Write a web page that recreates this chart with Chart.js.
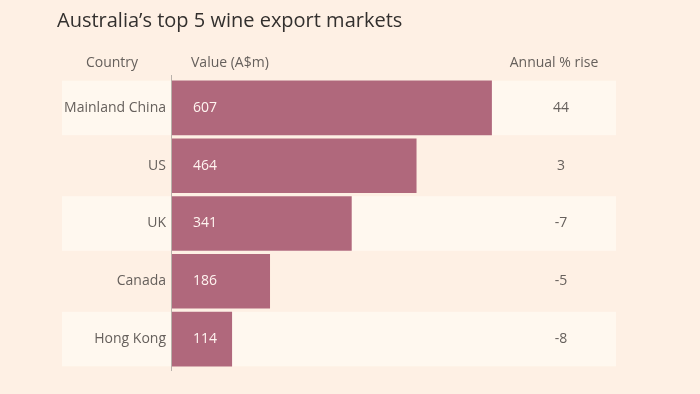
<!DOCTYPE html>
<html><head><meta charset="utf-8">
<script src="https://cdn.jsdelivr.net/npm/chart.js@4"></script>
<style>html,body{margin:0;padding:0;background:#fef0e4;}#wrap{width:700px;height:394px;}</style>
</head><body><div id="wrap"><canvas id="c" width="700" height="394"></canvas></div>
<script>
const countries = ["Mainland China","US","UK","Canada","Hong Kong"];
const values = [607,464,341,186,114];
const annualRise = ["44","3","-7","-5","-8"];
const FONT = "'Open Sans', 'Noto Sans', sans-serif";
const TEXT = '#66605c';

const decor = {
  id:'decor',
  beforeDraw(chart){
    const {ctx, chartArea, scales:{y}} = chart;
    ctx.save();
    ctx.fillStyle = '#fff8ef';
    countries.forEach((c,i)=>{
      if(i%2===0){
        const yc = y.getPixelForValue(i);
        const h = 54.5;
        ctx.fillRect(62, yc-h/2, chartArea.right-62, h);
      }
    });
    ctx.restore();
  },
  afterDatasetsDraw(chart){
    const {ctx, chartArea, scales:{x,y}} = chart;
    ctx.save();
    ctx.strokeStyle = '#b9b2ab'; ctx.lineWidth = 1;
    ctx.beginPath(); ctx.moveTo(171.5, 75); ctx.lineTo(171.5, 371); ctx.stroke();
    ctx.fillStyle = '#33302e';
    ctx.font = "20px " + FONT;
    ctx.textBaseline = 'alphabetic'; ctx.textAlign='left';
    ctx.fillText("Australia\u2019s top 5 wine export markets", 57, 27);
    ctx.fillStyle = TEXT;
    ctx.font = "14px " + FONT;
    ctx.textAlign='center'; ctx.fillText("Country", 112, 67);
    ctx.textAlign='left'; ctx.fillText("Value (A$m)", 191, 67);
    ctx.textAlign='center'; ctx.fillText("Annual % rise", 554, 67);
    ctx.textBaseline='middle';
    countries.forEach((c,i)=>{
      const yc = y.getPixelForValue(i);
      ctx.fillStyle = '#fff4f0'; ctx.textAlign='left';
      ctx.fillText(String(values[i]), 193, yc);
      ctx.fillStyle = TEXT; ctx.textAlign='center';
      ctx.fillText(annualRise[i], 561, yc);
    });
    ctx.restore();
  }
};

new Chart(document.getElementById('c'), {
  type:'bar',
  data:{labels:countries, datasets:[{data:values, backgroundColor:'#b0687c', borderWidth:0, barPercentage:0.945, categoryPercentage:1}]},
  options:{
    indexAxis:'y', responsive:false, animation:false,
    layout:{padding:{left:0,right:84,top:79,bottom:26}},
    plugins:{legend:{display:false}, tooltip:{enabled:false}},
    scales:{
      x:{display:false, min:0, max:842.5},
      y:{
        afterFit(s){ s.width = 172; },
        grid:{display:false, drawTicks:false}, border:{display:false},
        ticks:{color:TEXT, font:{family:FONT, size:14}, padding:6}
      }
    }
  },
  plugins:[decor]
});
</script></body></html>
